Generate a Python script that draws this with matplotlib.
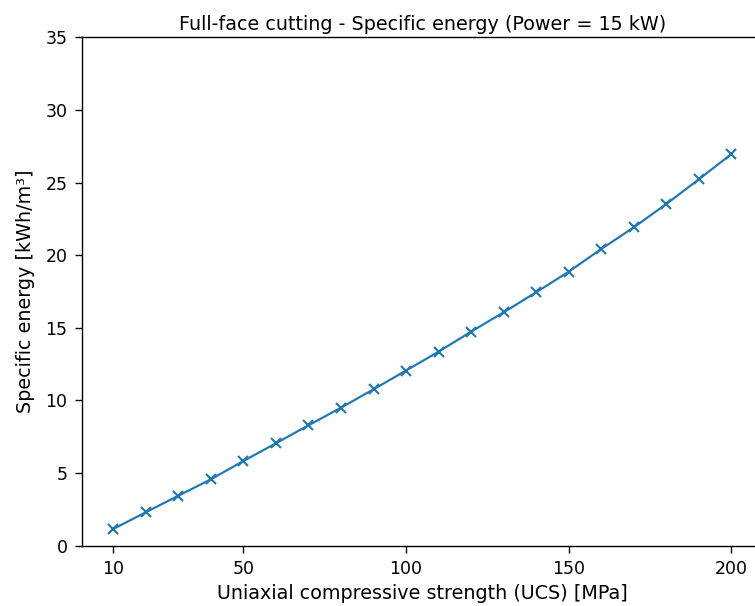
import matplotlib
matplotlib.use("Agg")
import matplotlib.pyplot as plt

ucs = [10, 20, 30, 40, 50, 60, 70, 80, 90, 100,
       110, 120, 130, 140, 150, 160, 170, 180, 190, 200]
specific_energy = [1.14, 2.29, 3.43, 4.56, 5.82, 7.04, 8.28, 9.49, 10.76, 12.05,
                   13.35, 14.73, 16.06, 17.44, 18.86, 20.42, 21.91, 23.52, 25.22, 26.96]
xticks = [10, 50, 100, 150, 200]
yticks = [0, 5, 10, 15, 20, 25, 30, 35]

DPI = 125
fig = plt.figure(figsize=(755 / DPI, 606 / DPI), dpi=DPI)
ax = fig.add_axes([0.1091, 0.0998, 0.9005, 0.8386])
ax.plot(ucs, specific_energy, marker='x', color='C0', linewidth=1.25,
        markersize=6, markeredgewidth=1.2)
ax.set_xticks(xticks)
ax.set_yticks(yticks)
ax.set_ylim(0, 35)
ax.tick_params(labelsize=10, length=4.0, pad=4.6)
ax.set_xlabel("Uniaxial compressive strength (UCS) [MPa]", fontsize=11, labelpad=3)
ax.set_ylabel("Specific energy [kWh/m³]", fontsize=11, labelpad=6.3)
ax.set_title("Full-face cutting - Specific energy (Power = 15 kW)", fontsize=11, pad=4.3)
fig.savefig("out.png", dpi=DPI)
